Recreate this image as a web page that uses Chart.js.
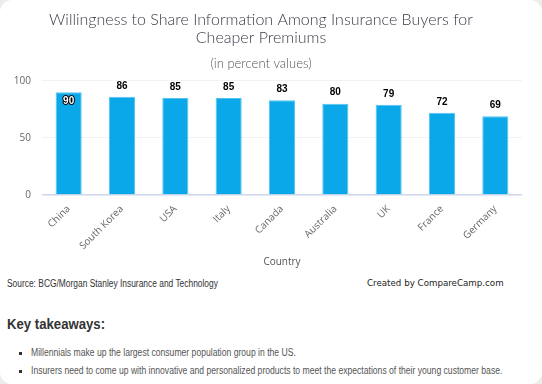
<!DOCTYPE html>
<html>
<head>
<meta charset="utf-8">
<script src="https://cdn.jsdelivr.net/npm/chart.js@4.4.1/dist/chart.umd.min.js"></script>
<style>
  html, body { margin:0; padding:0; background:#ececec; }
  #card { position:absolute; left:0; top:0; width:542px; height:384px; background:#fff; border-radius:12px; overflow:hidden; }
  #wrap { position:absolute; left:0; top:0; width:542px; height:272px; }
  .t { position:absolute; white-space:nowrap; font-family:"Liberation Sans",Arial,sans-serif; transform-origin:0 50%; }
  #source { left:7px; top:278px; font-size:10px; color:#333; transform:scaleX(0.84); }
  #created { left:367px; top:278px; font-size:8.7px; color:#222; font-family:"DejaVu Sans",sans-serif; }
  #key { left:7px; top:316px; font-size:14px; font-weight:bold; color:#333; transform:scaleX(0.94); }
  ul { position:absolute; left:0; top:347px; margin:0; padding:0; list-style:none; }
  li { position:relative; height:18px; font-size:10px; color:#555; }
  li span { position:absolute; left:31px; top:0; white-space:nowrap; font-family:"Liberation Sans",Arial,sans-serif; transform-origin:0 50%; transform:scaleX(0.86); }
  li:before { content:""; position:absolute; left:19px; top:5px; width:3px; height:3px; background:#333; }
</style>
</head>
<body>
<div id="card">
  <div id="wrap"><canvas id="c" width="542" height="272"></canvas></div>
  <div class="t" id="source">Source: BCG/Morgan Stanley Insurance and Technology</div>
  <div class="t" id="created">Created by CompareCamp.com</div>
  <div class="t" id="key">Key takeaways:</div>
  <ul>
    <li><span>Millennials make up the largest consumer population group in the US.</span></li>
    <li><span>Insurers need to come up with innovative and personalized products to meet the expectations of their young customer base.</span></li>
  </ul>
</div>
<script>
const categories = ["China","South Korea","USA","Italy","Canada","Australia","UK","France","Germany"];
const values = [90, 86, 85, 85, 83, 80, 79, 72, 69];
const titleLines = ["Willingness to Share Information Among Insurance Buyers for", "Cheaper Premiums"];
const subtitleText = "(in percent values)";
const xAxisTitle = "Country";

const valueLabels = {
  id: 'valueLabels',
  afterDatasetsDraw(chart) {
    const ctx = chart.ctx;
    const meta = chart.getDatasetMeta(0);
    const area = chart.chartArea;
    ctx.save();
    ctx.font = 'bold 10px "Liberation Sans", Arial, sans-serif';
    ctx.textAlign = 'center';
    ctx.textBaseline = 'middle';
    ctx.lineJoin = 'round';
    meta.data.forEach((bar, i) => {
      const txt = String(values[i]);
      let y = bar.y - 11;
      let inside = (y - 4 < area.top);
      if (inside) y = bar.y + 9;
      ctx.lineWidth = 2;
      ctx.strokeStyle = inside ? '#000' : '#fff';
      ctx.strokeText(txt, bar.x, y);
      ctx.fillStyle = inside ? '#fff' : '#000';
      ctx.fillText(txt, bar.x, y);
    });
    ctx.restore();
  }
};

new Chart(document.getElementById('c'), {
  type: 'bar',
  data: {
    labels: categories,
    datasets: [{
      data: values,
      backgroundColor: '#0aa8e8',
      borderColor: '#55c3f0',
      borderWidth: 1,
      categoryPercentage: 1,
      barPercentage: 0.49
    }]
  },
  options: {
    responsive: false,
    animation: false,
    devicePixelRatio: 1,
    layout: { padding: { left: 0, right: 20, top: 11, bottom: 0 } },
    plugins: {
      legend: { display: false },
      tooltip: { enabled: false },
      title: {
        display: true,
        text: titleLines,
        color: '#3a3a48',
        font: { family: 'Lato', weight: '300', size: 16, lineHeight: 1.1 },
        padding: { top: 0, bottom: 8 }
      },
      subtitle: {
        display: true,
        text: subtitleText,
        color: '#555',
        font: { family: 'Lato', weight: '300', size: 13 },
        padding: { top: 2, bottom: 9 }
      }
    },
    scales: {
      x: {
        grid: { display: false },
        border: { display: false },
        ticks: {
          color: '#666',
          font: { family: '"Open Sans"', size: 10 },
          minRotation: 45, maxRotation: 45,
          padding: 0,
          autoSkip: false
        },
        title: {
          display: true,
          text: xAxisTitle,
          color: '#555',
          font: { family: '"Open Sans"', size: 10 },
          padding: { top: 0, bottom: 4 }
        },
        afterFit(scale) { scale.height = 77; }
      },
      y: {
        min: 0, max: 100,
        ticks: {
          stepSize: 50,
          color: '#666',
          font: { family: '"Open Sans"', size: 10 },
          padding: 11
        },
        grid: {
          drawTicks: false,
          color: (c) => c.tick && c.tick.value === 0 ? '#ccd6eb' : '#f2f2f2',
          lineWidth: (c) => c.tick && c.tick.value === 0 ? 1.5 : 1
        },
        border: { display: false },
        afterFit(scale) { scale.width = 42; }
      }
    }
  },
  plugins: [valueLabels]
});
</script>
</body>
</html>
